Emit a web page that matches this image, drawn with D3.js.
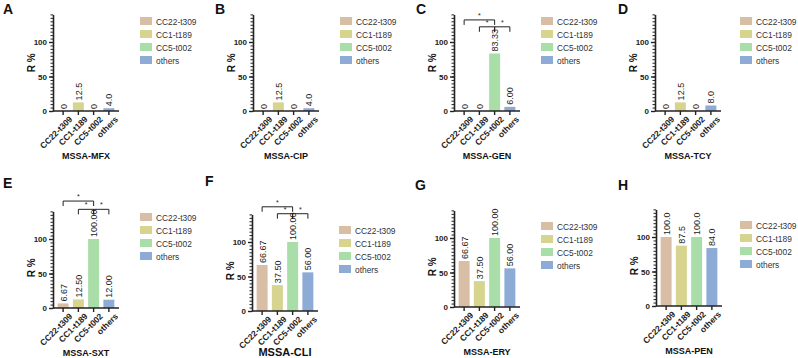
<!DOCTYPE html>
<html>
<head>
<meta charset="utf-8">
<script src="https://cdn.jsdelivr.net/npm/d3@7"></script>
<style>
  body { margin: 0; background: #fff; }
  text { font-family: "Liberation Sans", Arial, sans-serif; }
</style>
</head>
<body>
<script>
let w = 798;
let h = 358;

let groups = ['CC22-t309', 'CC1-t189', 'CC5-t002', 'others'];
let colors = ['#d9bea6', '#d7d48f', '#a9dea9', '#8eabd6'];
let drugs = ['MSSA-MFX', 'MSSA-CIP', 'MSSA-GEN', 'MSSA-TCY', 'MSSA-SXT', 'MSSA-CLI', 'MSSA-ERY', 'MSSA-PEN'];
let letters = ['A', 'B', 'C', 'D', 'E', 'F', 'G', 'H'];

let mfx = [0, 12.5, 0, 4.0];
let cip = [0, 12.5, 0, 4.0];
let gen = [0, 0, 83.33, 6.00];
let tcy = [0, 12.5, 0, 8.0];
let sxt = [6.67, 12.50, 100.00, 12.00];
let cli = [66.67, 37.50, 100.00, 56.00];
let ery = [66.67, 37.50, 100.00, 56.00];
let pen = [100.0, 87.5, 100.0, 84.0];
let values = [mfx, cip, gen, tcy, sxt, cli, ery, pen];
let decimals = [1, 1, 2, 1, 2, 2, 2, 1];

let yTicks = [0, 50, 100];
let yMax = 140;

// significance brackets: [from, to, level in %]
let sigGen = [[0, 2, 132], [1, 2, 122], [2, 3, 122]];
let sigSxt = [[0, 2, 155], [1, 2, 143], [2, 3, 143]];
let sigCli = [[0, 2, 151], [1, 2, 141], [2, 3, 141]];
let sigs = [null, null, sigGen, null, sigSxt, sigCli, null, null];

// layout per panel: axis x, zero line y, letter x/y, legend offset
let axisX = [53, 253, 454, 655, 53, 252, 454, 656];
let zeroY = [111, 111, 111, 111, 308, 311, 307, 306];
let letterX = [3, 215, 416, 618, 3, 205, 415, 618];
let letterY = [14, 14, 14, 14, 188, 186, 190, 190];
let legendDx = [87, 87, 87, 85, 87, 87, 87, 84];
let legendDy = [-90, -90, -90, -90, -91, -81, -81, -81];

let svg = d3.select('body')
  .append('svg')
  .attr('width', w)
  .attr('height', h);

let yScale = d3.scaleLinear()
  .domain([0, yMax])
  .range([0, -96.6]);

let xScale = d3.scaleBand()
  .domain(groups)
  .range([2.5, 63.5])
  .paddingInner(0.28)
  .paddingOuter(0.14);

drugs.forEach((drug, i) => {
  let vals = values[i];
  let g = svg.append('g')
    .attr('transform', 'translate(' + axisX[i] + ',' + zeroY[i] + ')');

  svg.append('text')
    .attr('x', letterX[i])
    .attr('y', letterY[i])
    .attr('font-size', '14px')
    .attr('font-weight', 'bold')
    .attr('fill', '#111')
    .text(letters[i]);

  // bars
  g.selectAll('rect.bar')
    .data(vals)
    .enter()
    .append('rect')
    .attr('class', 'bar')
    .attr('x', (d, j) => xScale(groups[j]))
    .attr('y', (d) => yScale(d))
    .attr('width', xScale.bandwidth())
    .attr('height', (d) => -yScale(d))
    .attr('fill', (d, j) => colors[j]);

  // value labels
  g.selectAll('text.val')
    .data(vals)
    .enter()
    .append('text')
    .attr('class', 'val')
    .attr('transform', (d, j) => 'translate(' + (xScale(groups[j]) + xScale.bandwidth() / 2 + 3.5) + ',' + (yScale(d) - 2) + ') rotate(-90)')
    .attr('font-size', '9px')
    .attr('fill', '#222')
    .text((d) => d === 0 ? '0' : d.toFixed(decimals[i]));

  // y axis with minor ticks
  let yAxisMinor = d3.axisLeft(yScale)
    .tickValues(d3.range(0, yMax + 1, 5))
    .tickSize(2.5)
    .tickFormat('');
  g.append('g').call(yAxisMinor)
    .call((s) => s.select('.domain').remove())
    .selectAll('line').attr('stroke', '#222').attr('stroke-width', 1);

  let yAxis = d3.axisLeft(yScale)
    .tickValues(yTicks)
    .tickSize(4)
    .tickSizeOuter(0)
    .tickPadding(2);
  let ya = g.append('g').call(yAxis);
  ya.select('.domain').attr('stroke', '#222').attr('stroke-width', 1.6);
  ya.selectAll('line').attr('stroke', '#222').attr('stroke-width', 1.4);
  ya.selectAll('text')
    .attr('font-size', '8px')
    .attr('font-weight', 'bold')
    .attr('fill', '#222')
    .style('font-family', '"Liberation Sans", Arial, sans-serif');

  // x axis
  let xAxis = d3.axisBottom(xScale)
    .tickSize(4)
    .tickSizeOuter(0);
  let xa = g.append('g').call(xAxis);
  xa.select('.domain').attr('d', 'M0,0H66').attr('stroke', '#222').attr('stroke-width', 1.6);
  xa.selectAll('line').attr('stroke', '#222').attr('stroke-width', 1.4);
  xa.selectAll('text')
    .attr('font-size', '8.5px')
    .attr('font-weight', 'bold')
    .attr('fill', '#222')
    .attr('text-anchor', 'end')
    .attr('transform', 'translate(4,3) rotate(-45)')
    .attr('dy', '0.5em')
    .attr('y', 4)
    .style('font-family', '"Liberation Sans", Arial, sans-serif');

  // y title
  let cy = yScale(yMax) / 2 + (i >= 4 ? 8 : 0);
  g.append('text')
    .attr('transform', 'translate(-18,' + cy + ') rotate(-90)')
    .attr('text-anchor', 'middle')
    .attr('font-size', '10px')
    .attr('font-weight', 'bold')
    .attr('fill', '#111')
    .text('R %');

  // x title
  g.append('text')
    .attr('x', 33)
    .attr('y', i === 5 ? 45 : 48)
    .attr('text-anchor', 'middle')
    .attr('font-size', i === 5 ? '11px' : '9px')
    .attr('font-weight', 'bold')
    .attr('fill', '#111')
    .text(drug);

  // significance brackets
  if (sigs[i]) {
    let cx = (j) => xScale(groups[j]) + xScale.bandwidth() / 2;
    sigs[i].forEach((s) => {
      let y = yScale(s[2]);
      g.append('path')
        .attr('d', 'M' + cx(s[0]) + ',' + (y + 5) + 'V' + y + 'H' + cx(s[1]) + 'V' + (y + 5))
        .attr('fill', 'none')
        .attr('stroke', '#222')
        .attr('stroke-width', 1);
      g.append('text')
        .attr('x', (cx(s[0]) + cx(s[1])) / 2)
        .attr('y', y - 2)
        .attr('text-anchor', 'middle')
        .attr('font-size', '7px')
        .attr('fill', '#222')
        .text('*');
    });
  }

  // legend
  let lg = g.append('g')
    .attr('transform', 'translate(' + legendDx[i] + ',' + legendDy[i] + ')');
  lg.selectAll('rect')
    .data(groups)
    .enter()
    .append('rect')
    .attr('x', 0)
    .attr('y', (d, j) => j * 13 - 4)
    .attr('width', 12)
    .attr('height', 8)
    .attr('fill', (d, j) => colors[j]);
  lg.selectAll('text')
    .data(groups)
    .enter()
    .append('text')
    .attr('x', 16)
    .attr('y', (d, j) => j * 13 + 3.5)
    .attr('font-size', '8.4px')
    .attr('fill', '#333')
    .text((d) => d);
});
</script>
</body>
</html>
